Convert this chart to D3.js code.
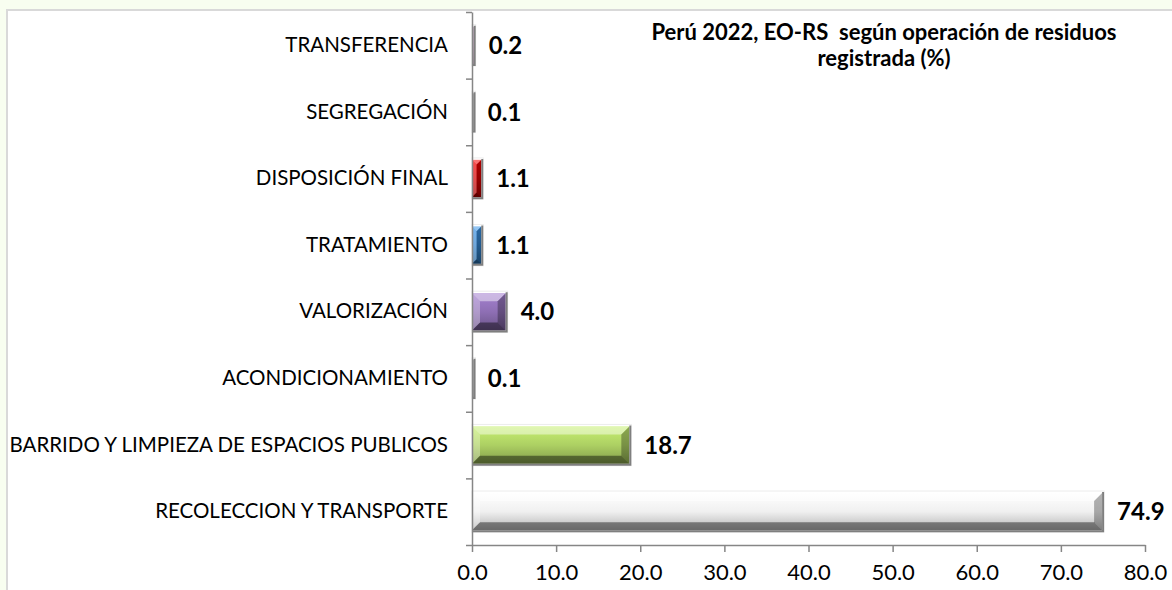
<!DOCTYPE html>
<html>
<head>
<meta charset="utf-8">
<script src="https://cdn.jsdelivr.net/npm/d3@7"></script>
<style>
  html, body { margin: 0; padding: 0; background: #f8fef0; }
  svg { display: block; }
</style>
</head>
<body>
<svg id="chart" width="1172" height="590"></svg>
<script>
// data, top to bottom
var categories = ["TRANSFERENCIA", "SEGREGACIÓN", "DISPOSICIÓN FINAL", "TRATAMIENTO",
                  "VALORIZACIÓN", "ACONDICIONAMIENTO", "BARRIDO Y LIMPIEZA DE ESPACIOS PUBLICOS",
                  "RECOLECCION Y TRANSPORTE"];
var values = [0.2, 0.1, 1.1, 1.1, 4.0, 0.1, 18.7, 74.9];
var barColors = ["#d4a6cc", "#8c8c8c", "#c00000", "#2e75b6", "#8064a2", "#8c8c8c", "#9bbb59", "#d8d8d8"];
var xTicks = [0, 10, 20, 30, 40, 50, 60, 70, 80];
var titleLines = ["Perú 2022, EO-RS  según operación de residuos", "registrada (%)"];

var svg = d3.select("#chart");
var font = "Lato, 'Open Sans', sans-serif";

// white plot card with a light grey border
svg.append("rect")
    .attr("x", 7).attr("y", 10)
    .attr("width", 1180).attr("height", 600)
    .attr("fill", "#ffffff")
    .attr("stroke", "#d9d9d9")
    .attr("stroke-width", 2);

var x = d3.scaleLinear().domain([0, 80]).range([472, 1145]);
var y = d3.scaleBand().domain(categories).range([12, 545]);
var yEdges = d3.scaleLinear().domain([0, categories.length]).range([12, 545]);

var defs = svg.append("defs");

// bars
var bars = svg.selectAll(".bar")
    .data(categories.map(function(c, i) { return { cat: c, value: values[i], color: barColors[i], i: i }; }))
    .enter()
    .append("g")
    .attr("class", "bar");

bars.each(function(d) {
    var g = d3.select(this);
    var h = y.bandwidth() * 0.56;
    var x0 = x(0), x1 = x(d.value);
    var w = Math.max(x1 - x0, 1.5);
    var y0 = y(d.cat) + (y.bandwidth() - h) / 2;
    var b = Math.min(8, h / 2, w / 2);
    var base = d3.color(d.color);

    var gid = "grad" + d.i;
    var grad = defs.append("linearGradient")
        .attr("id", gid)
        .attr("x1", 0).attr("y1", 0).attr("x2", 0).attr("y2", 1);
    grad.append("stop").attr("offset", "0%").attr("stop-color", base.brighter(0.7));
    grad.append("stop").attr("offset", "50%").attr("stop-color", base.brighter(0.3));
    grad.append("stop").attr("offset", "100%").attr("stop-color", base.darker(0.5));

    // faint frame
    g.append("rect")
        .attr("x", x0).attr("y", y0 - 2)
        .attr("width", w + 2).attr("height", h + 4)
        .attr("fill", "none")
        .attr("stroke", "#ececec")
        .attr("stroke-width", 1);

    // face
    g.append("rect")
        .attr("x", x0).attr("y", y0)
        .attr("width", w).attr("height", h)
        .attr("fill", "url(#" + gid + ")");

    // bevel pieces
    var top = [[x0, y0], [x0 + w, y0], [x0 + w - b, y0 + b], [x0 + b, y0 + b]];
    var bottom = [[x0, y0 + h], [x0 + w, y0 + h], [x0 + w - b, y0 + h - b], [x0 + b, y0 + h - b]];
    var left = [[x0, y0], [x0 + b, y0 + b], [x0 + b, y0 + h - b], [x0, y0 + h]];
    var right = [[x0 + w, y0], [x0 + w - b, y0 + b], [x0 + w - b, y0 + h - b], [x0 + w, y0 + h]];
    var line = d3.line();
    g.append("path").attr("d", line(top) + "Z").attr("fill", "#ffffff").attr("fill-opacity", 0.45);
    g.append("path").attr("d", line(left) + "Z").attr("fill", "#ffffff").attr("fill-opacity", 0.3);
    g.append("path").attr("d", line(bottom) + "Z").attr("fill", "#000000").attr("fill-opacity", 0.42);
    g.append("path").attr("d", line(right) + "Z").attr("fill", "#000000").attr("fill-opacity", 0.3);

    // dark shadow edge at right and bottom
    g.append("path")
        .attr("d", line([[x0 + w + 1, y0 - 1], [x0 + w + 1, y0 + h + 1], [x0, y0 + h + 1]]))
        .attr("fill", "none")
        .attr("stroke", "#7f7f7f")
        .attr("stroke-width", 2);
});

// value labels
svg.selectAll(".value-label")
    .data(values)
    .enter()
    .append("text")
    .attr("class", "value-label")
    .attr("x", function(d) { return x(d) + 15; })
    .attr("y", function(d, i) { return y(categories[i]) + y.bandwidth() / 2; })
    .attr("dy", "0.36em")
    .style("font-family", font)
    .style("font-weight", "bold")
    .style("font-size", "24px")
    .attr("fill", "#000")
    .text(function(d) { return d.toFixed(1); });

// y axis: line plus ticks at band edges
var yAxis = svg.append("g")
    .attr("transform", "translate(" + x(0) + ",0)")
    .call(d3.axisLeft(yEdges).tickValues(d3.range(0, categories.length + 1)).tickSize(6).tickSizeOuter(0).tickFormat(""));
yAxis.select(".domain").attr("stroke", "#868686").attr("stroke-width", 1.5);
yAxis.selectAll(".tick line").attr("stroke", "#868686").attr("stroke-width", 1.5);

// category labels
var yLabels = svg.append("g")
    .attr("transform", "translate(" + (x(0) - 24) + ",0)")
    .call(d3.axisLeft(y).tickSize(0).tickPadding(0));
yLabels.select(".domain").remove();
yLabels.selectAll("text")
    .style("font-family", font)
    .style("font-size", "20.5px")
    .attr("fill", "#000");

// x axis
var xAxis = svg.append("g")
    .attr("transform", "translate(0,545)")
    .call(d3.axisBottom(x).tickValues(xTicks).tickSize(7).tickSizeOuter(0).tickPadding(12)
        .tickFormat(function(d) { return d.toFixed(1); }));
xAxis.select(".domain").attr("stroke", "#868686").attr("stroke-width", 1.5);
xAxis.selectAll(".tick line").attr("stroke", "#868686").attr("stroke-width", 1.5);
xAxis.selectAll("text")
    .style("font-family", font)
    .style("font-size", "22px")
    .attr("fill", "#000");

// title
svg.append("text")
    .attr("x", 884)
    .attr("y", 40)
    .attr("text-anchor", "middle")
    .style("font-family", font)
    .style("font-weight", "bold")
    .style("font-size", "22px")
    .style("white-space", "pre")
    .selectAll("tspan")
    .data(titleLines)
    .enter()
    .append("tspan")
    .attr("x", 884)
    .attr("dy", function(d, i) { return i === 0 ? 0 : 26; })
    .text(function(d) { return d; });
</script>
</body>
</html>
